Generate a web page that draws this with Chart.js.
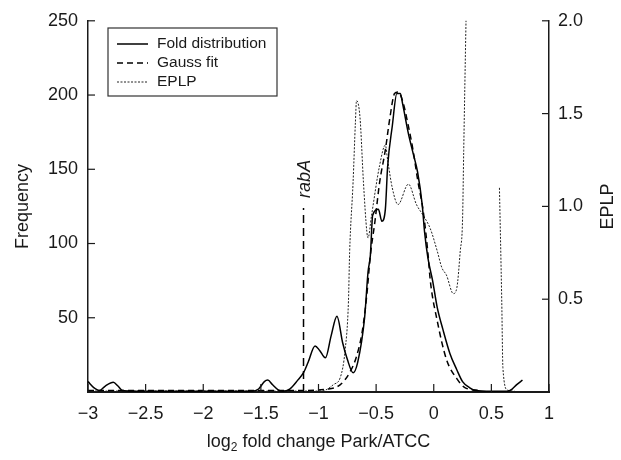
<!DOCTYPE html>
<html>
<head>
<meta charset="utf-8">
<script src="https://cdn.jsdelivr.net/npm/chart.js@4.4.0/dist/chart.umd.min.js"></script>
<style>
body{margin:0;background:#fff;}
</style>
</head>
<body>
<canvas id="myChart" width="621" height="460"></canvas>
<script>
// values
const foldX = [-3.00,-2.95,-2.90,-2.85,-2.78,-2.74,-2.70,-2.60,-2.00,-1.58,-1.52,-1.47,-1.44,-1.40,-1.35,-1.31,
  -1.25,-1.18,-1.13,-1.09,-1.03,-0.99,-0.94,-0.89,-0.84,-0.79,-0.75,-0.70,-0.66,-0.60,-0.57,-0.55,-0.53,-0.48,
  -0.45,-0.42,-0.40,-0.36,-0.32,-0.29,-0.27,-0.22,-0.18,-0.14,-0.10,-0.08,-0.05,-0.01,0.03,0.08,0.14,0.20,0.25,
  0.31,0.36,0.50,0.64,0.68,0.72,0.77];
const foldY = [7,3,1,4,6.5,4,1,0.5,0.5,0.5,2,7,8,5,1.5,0.5,
  2,8,13,20,31,28,23,38,51,33,22,13,20,50,81,92,119,123,
  115,123,152,179,201,201,194,174,161,148,126,108,90,75,57,42,26,15,7,
  3,1,0.5,0.5,2,5,8];

const gaussX = [-3.00,-1.20,-0.92,-0.81,-0.73,-0.67,-0.62,-0.58,-0.55,-0.51,-0.47,-0.42,-0.38,-0.34,-0.31,
  -0.27,-0.22,-0.18,-0.14,-0.09,-0.05,-0.03,0.03,0.11,0.20,0.27,0.40];
const gaussY = [1,1,2,5,13,24,41,66,92,115,141,163,185,201,202,
  196,179,163,143,121,93,75,48,22,9,3,1];

const eplpX = [-3.00,-1.00,-0.94,-0.87,-0.81,-0.77,-0.74,-0.73,-0.70,-0.68,-0.67,-0.64,-0.61,-0.58,-0.57,-0.54,
  -0.47,-0.42,-0.40,-0.36,-0.31,-0.22,-0.15,-0.09,-0.03,0.03,0.07,0.11,0.17,0.20,0.23,0.25,0.26,0.28,0.29,
  0.40,0.57,0.59,0.60,0.64,0.70];
const eplpY = [0.005,0.005,0.01,0.04,0.08,0.22,0.49,0.75,1.13,1.45,1.57,1.48,1.13,0.86,0.83,0.95,
  1.22,1.33,1.25,1.10,1.01,1.12,1.01,0.95,0.88,0.76,0.67,0.63,0.53,0.56,0.76,0.93,1.30,2.00,2.30,
  null,1.10,0.49,0.13,0.01,0.005];

const rabAX = -1.13;
const rabATop = 124;

const xTitle = ['log', '2', ' fold change Park/ATCC'];
const leftTitle = 'Frequency';
const rightTitle = 'EPLP';
const legendNames = ['Fold distribution', 'Gauss fit', 'EPLP'];

const FONT = '"Liberation Sans", Arial, Helvetica, sans-serif';
const INK = '#1a1a1a';

function pts(xs, ys){ return xs.map((x, i) => ({x: x, y: ys[i]})); }

const extras = {
  id: 'extras',
  afterDraw(chart){
    const ctx = chart.ctx;
    const a = chart.chartArea;
    const sx = chart.scales.x, sy = chart.scales.y, sy2 = chart.scales.y2;
    ctx.save();
    ctx.strokeStyle = INK;
    ctx.lineWidth = 1.2;
    // ticks point inward
    sx.ticks.forEach(t => {
      const p = sx.getPixelForValue(t.value);
      ctx.beginPath(); ctx.moveTo(p, a.bottom); ctx.lineTo(p, a.bottom - 8); ctx.stroke();
    });
    sy.ticks.forEach(t => {
      if (t.value === 0) return;
      const p = sy.getPixelForValue(t.value);
      ctx.beginPath(); ctx.moveTo(a.left, p); ctx.lineTo(a.left + 7, p); ctx.stroke();
    });
    sy2.ticks.forEach(t => {
      if (t.value === 0) return;
      const p = sy2.getPixelForValue(t.value);
      ctx.beginPath(); ctx.moveTo(a.right, p); ctx.lineTo(a.right - 7, p); ctx.stroke();
    });

    ctx.fillStyle = INK;
    // rabA label
    ctx.save();
    ctx.translate(sx.getPixelForValue(rabAX) + 1, sy.getPixelForValue(rabATop) - 10);
    ctx.rotate(-Math.PI / 2);
    ctx.font = 'italic 18px ' + FONT;
    ctx.textAlign = 'left';
    ctx.textBaseline = 'middle';
    ctx.fillText('rabA', 0, 0);
    ctx.restore();

    // right axis title, reads bottom to top
    ctx.save();
    ctx.translate(608, (a.top + a.bottom) / 2);
    ctx.rotate(-Math.PI / 2);
    ctx.font = '18px ' + FONT;
    ctx.textAlign = 'center';
    ctx.textBaseline = 'middle';
    ctx.fillText(rightTitle, 0, 0);
    ctx.restore();

    // x title with subscript
    ctx.textBaseline = 'alphabetic';
    ctx.textAlign = 'left';
    ctx.font = '18px ' + FONT;
    const w0 = ctx.measureText(xTitle[0]).width;
    const w2 = ctx.measureText(xTitle[2]).width;
    ctx.font = '12px ' + FONT;
    const w1 = ctx.measureText(xTitle[1]).width;
    let tx = (a.left + a.right) / 2 - (w0 + w1 + w2) / 2;
    const base = 447;
    ctx.font = '18px ' + FONT;
    ctx.fillText(xTitle[0], tx, base);
    ctx.font = '12px ' + FONT;
    ctx.fillText(xTitle[1], tx + w0, base + 4);
    ctx.font = '18px ' + FONT;
    ctx.fillText(xTitle[2], tx + w0 + w1, base);

    // legend box
    const bx = 108, by = 28, bw = 169, bh = 68;
    ctx.fillStyle = '#fff';
    ctx.fillRect(bx, by, bw, bh);
    ctx.strokeStyle = '#333';
    ctx.lineWidth = 1.2;
    ctx.setLineDash([]);
    ctx.strokeRect(bx, by, bw, bh);
    ctx.font = '15.5px ' + FONT;
    ctx.textBaseline = 'middle';
    ctx.textAlign = 'left';
    [0, 1, 2].forEach(i => {
      const ds = chart.data.datasets[i];
      const ly = 44 + i * 19;
      ctx.save();
      ctx.strokeStyle = ds.borderColor;
      ctx.lineWidth = ds.borderWidth;
      ctx.setLineDash(ds.borderDash || []);
      ctx.beginPath(); ctx.moveTo(117, ly); ctx.lineTo(148, ly); ctx.stroke();
      ctx.restore();
      ctx.fillStyle = INK;
      ctx.fillText(legendNames[i], 157, ly);
    });
    ctx.restore();
  }
};

const ctx = document.getElementById('myChart').getContext('2d');
const myChart = new Chart(ctx, {
  type: 'line',
  data: {
    datasets: [
      {
        label: legendNames[0],
        data: pts(foldX, foldY),
        yAxisID: 'y',
        borderColor: '#000',
        borderWidth: 1.5,
        cubicInterpolationMode: 'monotone'
      },
      {
        label: legendNames[1],
        data: pts(gaussX, gaussY),
        yAxisID: 'y',
        borderColor: '#000',
        borderWidth: 1.5,
        borderDash: [6, 4],
        cubicInterpolationMode: 'monotone'
      },
      {
        label: legendNames[2],
        data: pts(eplpX, eplpY),
        yAxisID: 'y2',
        borderColor: '#222',
        borderWidth: 1,
        borderDash: [2, 1.5],
        spanGaps: false,
        cubicInterpolationMode: 'monotone'
      },
      {
        label: 'rabA',
        data: [{x: rabAX, y: 0}, {x: rabAX, y: rabATop}],
        yAxisID: 'y',
        borderColor: '#000',
        borderWidth: 1.5,
        borderDash: [8, 5]
      }
    ]
  },
  options: {
    responsive: false,
    animation: false,
    events: [],
    layout: {padding: {top: 16, left: 0, right: 0, bottom: 0}},
    elements: {point: {radius: 0}, line: {fill: false}},
    plugins: {legend: {display: false}, tooltip: {enabled: false}},
    scales: {
      x: {
        type: 'linear',
        min: -3, max: 1,
        afterFit(s){ s.height = 68; },
        grid: {display: false, drawTicks: false},
        border: {display: true, color: INK, width: 2},
        ticks: {
          stepSize: 0.5, autoSkip: false, maxRotation: 0, padding: 11,
          color: INK, font: {family: FONT, size: 18},
          callback: v => v < 0 ? '\u2212' + Math.abs(v) : String(v)
        }
      },
      y: {
        position: 'left',
        min: 0, max: 250,
        afterFit(s){ s.width = 88; },
        grid: {display: false, drawTicks: false},
        border: {display: true, color: INK, width: 1.5},
        ticks: {
          stepSize: 50, padding: 10, color: INK, font: {family: FONT, size: 18},
          callback: v => v === 0 ? '' : String(v)
        },
        title: {display: true, text: leftTitle, color: INK, font: {family: FONT, size: 18}, padding: {top: 12, bottom: 0}}
      },
      y2: {
        position: 'right',
        min: 0, max: 2,
        afterFit(s){ s.width = 72; },
        grid: {display: false, drawTicks: false},
        border: {display: true, color: INK, width: 1.5},
        ticks: {
          stepSize: 0.5, padding: 9, color: INK, font: {family: FONT, size: 18},
          callback: v => v === 0 ? '' : v.toFixed(1)
        }
      }
    }
  },
  plugins: [extras]
});
</script>
</body>
</html>
